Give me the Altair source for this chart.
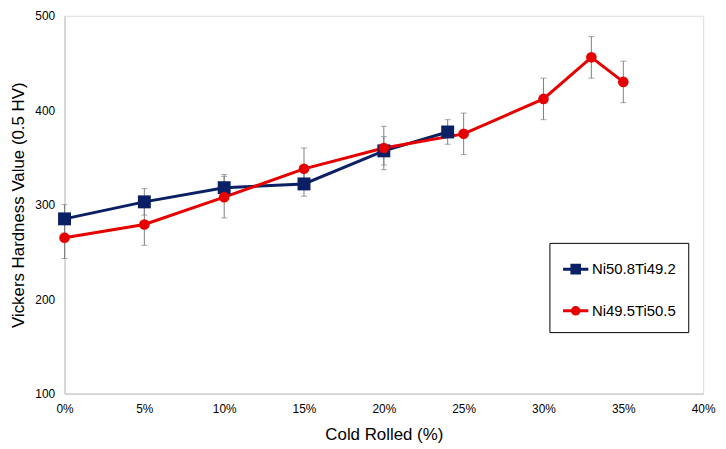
import altair as alt
import pandas as pd

# ---- data ----
series_names = ["Ni50.8Ti49.2", "Ni49.5Ti50.5"]
series_colors = ["#0B1F65", "#E60000"]

blue_x = [0.00, 0.05, 0.10, 0.15, 0.20, 0.24]
blue_y = [285, 303, 318, 322, 357, 377]
blue_err = [15, 14, 14, 13, 15, 13]

red_x = [0.00, 0.05, 0.10, 0.15, 0.20, 0.25, 0.30, 0.33, 0.35]
red_y = [265, 279, 308, 338, 360, 375, 412, 456, 430]
red_err = [22, 22, 22, 22, 23, 22, 22, 22, 22]

x_ticks = [0.0, 0.05, 0.10, 0.15, 0.20, 0.25, 0.30, 0.35, 0.40]
y_ticks = [100, 200, 300, 400, 500]

FONT = "Liberation Sans"


def frame(xs, ys, errs, name):
    return pd.DataFrame({
        "x": xs, "y": ys,
        "lo": [v - e for v, e in zip(ys, errs)],
        "hi": [v + e for v, e in zip(ys, errs)],
        "series": name,
    })


blue = frame(blue_x, blue_y, blue_err, series_names[0])
red = frame(red_x, red_y, red_err, series_names[1])
df = pd.concat([blue, red], ignore_index=True)

xscale = alt.Scale(domain=[0, 0.4], nice=False)
yscale = alt.Scale(domain=[100, 500], nice=False)

X = alt.X("x:Q", scale=xscale, title="Cold Rolled (%)",
          axis=alt.Axis(values=x_ticks, format=".0%", grid=False, ticks=False,
                        labelFlush=False, labelOverlap=False,
                        domainColor="#BFBFBF", labelPadding=10, titlePadding=12,
                        labelFontSize=12, titleFontSize=17, labelColor="black",
                        titleColor="black", titleFontWeight="normal",
                        labelFont=FONT, titleFont=FONT))
Y = alt.Y("y:Q", scale=yscale, title="Vickers Hardness Value (0.5 HV)",
          axis=alt.Axis(values=y_ticks, grid=False, ticks=False,
                        labelFlush=False, labelOverlap=False,
                        domainColor="#BFBFBF", labelPadding=10, titlePadding=7,
                        labelFontSize=12, titleFontSize=17, labelColor="black",
                        titleColor="black", titleFontWeight="normal",
                        labelFont=FONT, titleFont=FONT))

blue_line = alt.Chart(blue).mark_line(strokeWidth=3, color=series_colors[0]).encode(
    x=X, y=Y)
red_line = alt.Chart(red).mark_line(strokeWidth=3, color=series_colors[1]).encode(
    x="x:Q", y="y:Q")

base = alt.Chart(df)
rules = base.mark_rule(color="#7F7F7F", strokeWidth=1).encode(
    x="x:Q", y="lo:Q", y2="hi:Q")
caps_lo = base.mark_tick(orient="horizontal", size=6, thickness=1,
                         color="#7F7F7F").encode(x="x:Q", y="lo:Q")
caps_hi = base.mark_tick(orient="horizontal", size=6, thickness=1,
                         color="#7F7F7F").encode(x="x:Q", y="hi:Q")

blue_pts = alt.Chart(blue).mark_point(shape="square", filled=True, size=170,
                                      opacity=1, color=series_colors[0]).encode(
    x="x:Q", y="y:Q")
red_pts = alt.Chart(red).mark_point(shape="circle", filled=True, size=115,
                                    opacity=1, color=series_colors[1]).encode(
    x="x:Q", y="y:Q")

# legend symbols: a line with its marker, drawn with strokes only
square_path = ("M-1,0H1M-0.3,-0.3H0.3V0.3H-0.3Z"
               "M-0.3,-0.15H0.3M-0.3,0.15H0.3")
circle_path = ("M-1,0H1M0.26,0A0.26,0.26,0,1,1,-0.26,0A0.26,0.26,0,1,1,0.26,0"
               "M0.1,0A0.1,0.1,0,1,1,-0.1,0A0.1,0.1,0,1,1,0.1,0")

cscale = alt.Scale(domain=series_names, range=series_colors)
sscale = alt.Scale(domain=series_names, range=[square_path, circle_path])

legend = alt.Legend(
    title=None, orient="none", legendX=489, legendY=229,
    strokeColor="black", fillColor="white", padding=12,
    symbolSize=650, symbolStrokeWidth=3, symbolOpacity=1,
    labelFontSize=15, labelFont=FONT, labelColor="black", labelOffset=2,
    rowPadding=17,
)

legend_layer = base.mark_point(filled=False, strokeWidth=3, size=0,
                               opacity=1).encode(
    x="x:Q", y="y:Q",
    color=alt.Color("series:N", scale=cscale, legend=legend),
    shape=alt.Shape("series:N", scale=sscale, legend=legend),
)

chart = alt.layer(blue_line, red_line, rules, caps_lo, caps_hi, blue_pts, red_pts,
                  legend_layer).properties(
    width=644, height=381,
    autosize=alt.AutoSizeParams(type="none"),
    padding={"left": 57, "top": 6, "right": 15, "bottom": 52},
).configure_view(stroke=None).configure(background="white")

chart.save("out.html", embed_options={"renderer": "svg", "actions": False})
